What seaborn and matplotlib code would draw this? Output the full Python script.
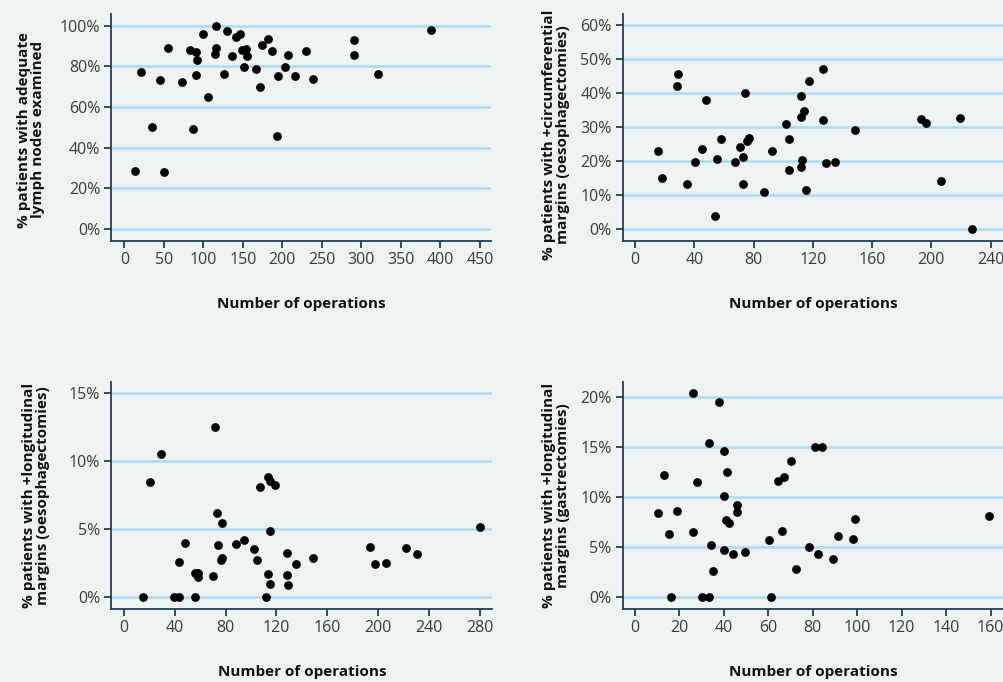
#!/usr/bin/env python3
"""Four-panel scatter: surgical quality indicators vs number of operations."""
import matplotlib
matplotlib.use("Agg")
import matplotlib.pyplot as plt
from matplotlib.ticker import FuncFormatter
import pandas as pd
import seaborn as sns

# --- DATA ---
lymph_ops = [13.5, 21.5, 35.4, 44.7, 49.8, 55.7, 72.6, 83.5, 86.9, 90.3, 91.6, 90.7,
             100.0, 105.5, 114.3, 116.5, 116.5, 125.7, 130.0, 135.9, 141.8, 146.8,
             148.5, 154.4, 155.7, 151.9, 166.7, 171.7, 174.7, 181.9, 186.9, 192.8,
             194.9, 203.8, 206.8, 215.6, 230.4, 238.8, 290.7, 290.7, 321.5, 388.2]
lymph_pct = [28.5, 77.2, 50.0, 73.3, 27.9, 89.3, 72.5, 88.0, 49.3, 86.9, 83.4, 75.9,
             95.9, 64.9, 85.9, 89.0, 100.0, 76.2, 97.5, 85.2, 94.3, 95.9,
             88.0, 88.4, 85.1, 79.5, 79.0, 69.8, 90.8, 93.4, 87.7, 45.6,
             75.4, 79.8, 85.6, 75.4, 87.4, 73.9, 92.8, 85.6, 76.4, 97.9]

circ_ops = [15.3, 18.2, 28.1, 29.3, 35.1, 40.3, 45.2, 48.2, 54.3, 55.2, 58.3, 67.3,
            71.1, 73.2, 73.2, 74.1, 75.4, 77.2, 87.1, 92.3, 102.2, 104.0, 104.0,
            112.1, 112.1, 114.1, 117.3, 113.0, 112.1, 115.2, 127.2, 127.2, 129.2,
            135.3, 148.3, 192.9, 196.1, 206.2, 219.0, 227.1]
circ_pct = [22.9, 15.1, 42.1, 45.6, 13.1, 19.7, 23.4, 37.8, 3.9, 20.6, 26.6, 19.7,
            24.1, 21.1, 13.2, 39.9, 25.8, 26.7, 10.8, 23.0, 30.9, 26.5, 17.2,
            39.0, 32.9, 34.8, 43.6, 20.2, 18.1, 11.4, 46.9, 32.1, 19.4,
            19.8, 29.2, 32.3, 31.3, 14.2, 32.5, 0.0]

long_oes_ops = [14.7, 20.8, 28.9, 39.4, 43.1, 42.9, 48.1, 55.8, 57.9, 57.9, 56.0, 70.0,
                71.8, 72.8, 73.9, 77.1, 76.0, 77.3, 87.8, 94.1, 102.0, 104.9, 107.0,
                113.1, 115.2, 118.9, 114.9, 111.8, 113.1, 115.2, 128.1, 128.1, 129.1,
                135.2, 149.1, 193.3, 197.2, 205.9, 222.2, 230.4, 280.1]
long_oes_pct = [0.0, 8.48, 10.5, 0.0, 0.0, 2.53, 3.98, 1.77, 1.77, 1.45, 0.0, 1.55,
                12.54, 6.2, 3.84, 5.46, 2.7, 2.88, 3.86, 4.16, 3.52, 2.7, 8.06,
                8.8, 8.53, 8.24, 4.84, 0.0, 1.67, 0.93, 3.2, 1.62, 0.84,
                2.39, 2.88, 3.66, 2.43, 2.46, 3.61, 3.17, 5.16]

long_gas_ops = [10.2, 13.1, 15.2, 16.1, 19.1, 26.1, 26.1, 28.1, 30.1, 33.2, 33.1, 34.1,
                35.2, 38.0, 40.1, 41.2, 40.1, 40.9, 42.1, 40.1, 44.2, 46.1, 46.1,
                49.3, 60.3, 61.2, 64.2, 67.2, 66.3, 70.3, 72.3, 78.3, 81.1, 84.3,
                82.2, 89.3, 91.2, 98.3, 99.2, 159.3]
long_gas_pct = [8.39, 12.24, 6.29, 0.0, 8.6, 20.4, 6.49, 11.54, 0.0, 0.0, 15.38, 5.22,
                2.54, 19.57, 14.65, 12.51, 10.13, 7.69, 7.36, 4.65, 4.31, 9.2, 8.49,
                4.52, 5.65, 0.0, 11.57, 11.97, 6.62, 13.61, 2.81, 4.95, 15.05, 15.05,
                4.25, 3.81, 6.12, 5.82, 7.79, 8.13]

# --- STYLE ---
BG = "#eef2f3"
GRID = "#aadcf2"
SPINE = "#1d3f5e"
TEXT = "#3a3a3a"

sns.set_theme(style="white")
plt.rcParams["font.family"] = ["Open Sans", "DejaVu Sans"]
plt.rcParams["figure.facecolor"] = BG
plt.rcParams["axes.facecolor"] = BG

fig = plt.figure(figsize=(10.04, 6.82), dpi=100)

panels = [
    # (x, y, ylabel, xlim, ylim, xticks, yticks, rect, ylabel_x, ylabel_y)
    (lymph_ops, lymph_pct, "% patients with adequate\nlymph nodes examined",
     (-16.5, 464.6), (-5.9, 105.8), range(0, 451, 50), range(0, 101, 20),
     [0.1109, 0.6466, 0.3786, 0.3328], -0.174, 0.49),
    (circ_ops, circ_pct, "% patients with +circumferential\nmargins (oesophagectomies)",
     (-8.3, 249), (-3.54, 63.2), range(0, 241, 40), range(0, 61, 10),
     [0.6202, 0.6466, 0.3798, 0.3328], -0.138, 0.47),
    (long_oes_ops, long_oes_pct, "% patients with +longitudinal\nmargins (oesophagectomies)",
     (-10, 290), (-0.91, 15.86), range(0, 281, 40), range(0, 16, 5),
     [0.1109, 0.107, 0.3796, 0.3333], -0.161, 0.5),
    (long_gas_ops, long_gas_pct, "% patients with +longitudinal\nmargins (gastrectomies)",
     (-5.5, 166), (-1.24, 21.56), range(0, 161, 20), range(0, 21, 5),
     [0.6202, 0.107, 0.3798, 0.3333], -0.138, 0.5),
]

for xs, ys, ylabel, xlim, ylim, xticks, yticks, rect, lx, ly in panels:
    ax = fig.add_axes(rect)
    df = pd.DataFrame({"ops": xs, "pct": ys})
    sns.scatterplot(data=df, x="ops", y="pct", ax=ax, color="black",
                    s=40, linewidth=0, zorder=3, clip_on=False)

    ax.set_xlim(*xlim)
    ax.set_ylim(*ylim)
    ax.set_xticks(list(xticks))
    ax.set_yticks(list(yticks))
    ax.yaxis.set_major_formatter(FuncFormatter(lambda v, _: f"{v:.0f}%"))

    ax.set_axisbelow(True)
    ax.yaxis.grid(True, color=GRID, lw=1.8)
    ax.xaxis.grid(False)

    for side in ("top", "right"):
        ax.spines[side].set_visible(False)
    for side in ("left", "bottom"):
        ax.spines[side].set_color(SPINE)
        ax.spines[side].set_linewidth(1.3)

    ax.tick_params(axis="both", direction="out", length=5, width=1.3,
                   color=SPINE, labelcolor=TEXT, labelsize=11.5, pad=3,
                   left=True, bottom=True)

    ax.set_xlabel("Number of operations", fontsize=11, fontweight="bold",
                  color="#111111", labelpad=21)
    ax.set_ylabel(ylabel, fontsize=11, fontweight="bold", color="#111111",
                  linespacing=1.0)
    ax.yaxis.set_label_coords(lx, ly)

fig.savefig("out.png", dpi=100, facecolor=BG)
